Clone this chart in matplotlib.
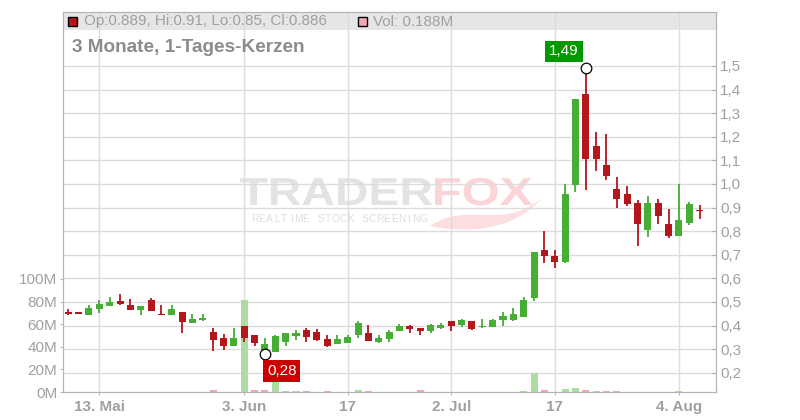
import numpy as np
import pandas as pd
import matplotlib
matplotlib.use('Agg')
import matplotlib.pyplot as plt
from matplotlib.patches import Rectangle, PathPatch
from matplotlib.textpath import TextPath
from matplotlib.font_manager import FontProperties
from matplotlib.transforms import Affine2D, blended_transform_factory
from matplotlib.path import Path

plt.rcParams['font.family'] = ['Liberation Sans', 'DejaVu Sans']

# US trading days, 8 May - 6 Aug 2025
holidays = ['2025-05-26', '2025-06-19', '2025-07-04']
dates = pd.bdate_range('2025-05-08', '2025-08-06', freq='C', holidays=holidays)

opens = [0.458, 0.458, 0.446, 0.472, 0.484, 0.504, 0.487, 0.466, 0.508, 0.449,
         0.446, 0.458, 0.412, 0.424, 0.373, 0.347, 0.315, 0.398, 0.360, 0.297,
         0.289, 0.332, 0.356, 0.381, 0.373, 0.343, 0.323, 0.326, 0.360, 0.369,
         0.330, 0.343, 0.377, 0.398, 0.390, 0.377, 0.390, 0.419, 0.402, 0.419,
         0.394, 0.394, 0.424, 0.424, 0.438, 0.518, 0.720, 0.695, 0.671, 0.996,
         1.381, 1.161, 1.080, 0.979, 0.958, 0.919, 0.805, 0.919, 0.832, 0.781,
         0.836, 0.889]
highs = [0.469, 0.458, 0.487, 0.508, 0.521, 0.534, 0.513, 0.483, 0.517, 0.489,
         0.487, 0.458, 0.449, 0.449, 0.390, 0.364, 0.390, 0.400, 0.360, 0.347,
         0.360, 0.369, 0.381, 0.390, 0.385, 0.360, 0.360, 0.360, 0.419, 0.402,
         0.360, 0.381, 0.407, 0.402, 0.390, 0.407, 0.411, 0.420, 0.428, 0.420,
         0.428, 0.428, 0.458, 0.475, 0.521, 0.711, 0.801, 0.720, 1.000, 1.360,
         1.490, 1.220, 1.212, 1.031, 0.992, 0.932, 0.950, 0.936, 0.894, 1.000,
         0.924, 0.910]
lows = [0.444, 0.447, 0.446, 0.455, 0.484, 0.487, 0.467, 0.446, 0.462, 0.446,
        0.446, 0.370, 0.412, 0.420, 0.294, 0.297, 0.315, 0.332, 0.313, 0.280,
        0.287, 0.315, 0.339, 0.332, 0.335, 0.311, 0.323, 0.326, 0.349, 0.336,
        0.326, 0.330, 0.377, 0.370, 0.360, 0.369, 0.385, 0.377, 0.394, 0.381,
        0.390, 0.394, 0.398, 0.419, 0.438, 0.506, 0.667, 0.645, 0.667, 0.968,
        0.975, 1.056, 1.017, 0.900, 0.908, 0.739, 0.777, 0.829, 0.770, 0.781,
        0.828, 0.850]
closes = [0.447, 0.447, 0.475, 0.492, 0.500, 0.492, 0.467, 0.483, 0.462, 0.446,
          0.470, 0.415, 0.428, 0.432, 0.339, 0.315, 0.347, 0.349, 0.325, 0.322,
          0.356, 0.369, 0.369, 0.353, 0.339, 0.315, 0.343, 0.352, 0.411, 0.336,
          0.347, 0.373, 0.398, 0.386, 0.377, 0.402, 0.402, 0.398, 0.424, 0.386,
          0.398, 0.424, 0.441, 0.449, 0.508, 0.711, 0.696, 0.671, 0.958, 1.360,
          1.107, 1.107, 1.035, 0.938, 0.915, 0.832, 0.919, 0.866, 0.781, 0.847,
          0.915, 0.886]
# volume in millions
volumes = [0.1, 0.1, 0.1, 0.1, 0.1, 0.1, 0.1, 0.1, 0.1, 0.1,
           0.1, 0.1, 0.1, 0.1, 1.8, 0.1, 0.1, 81.0, 1.8, 1.8,
           8.8, 0.9, 0.9, 0.9, 0.1, 0.9, 0.1, 0.1, 2.0, 0.9,
           0.1, 0.1, 0.1, 0.1, 1.8, 0.1, 0.1, 0.1, 0.1, 0.1,
           0.1, 0.1, 0.1, 0.1, 1.2, 16.8, 2.0, 0.1, 2.9, 3.8,
           2.0, 1.2, 1.2, 1.2, 0.1, 0.1, 0.1, 0.1, 0.1, 0.9,
           0.1, 0.188]

tick_dates = ['2025-05-13', '2025-06-03', '2025-06-17', '2025-07-02', '2025-07-17', '2025-08-04']
tick_labels = ['13. Mai', '3. Jun', '17', '2. Jul', '17', '4. Aug']
price_ticks = [0.2, 0.3, 0.4, 0.5, 0.6, 0.7, 0.8, 0.9, 1.0, 1.1, 1.2, 1.3, 1.4, 1.5]
vol_ticks = [0, 20, 40, 60, 80, 100]

UP, DOWN = '#46ad35', '#b3161b'
VOL_UP, VOL_DOWN, VOL_FLAT = '#acdca4', '#f2a9b3', '#cccccc'
GRID, AXIS, LABEL = '#dcdcdc', '#b4b4b4', '#a0a0a0'

o, h, l, c = map(np.array, (opens, highs, lows, closes))
vol = np.array(volumes)
x = np.arange(len(dates))
cand_col = np.where(c >= o, UP, DOWN)
prev = np.r_[c[0], c[:-1]]
vol_col = np.where(c > prev, VOL_UP, np.where(c < prev, VOL_DOWN, VOL_FLAT))

W, H = 800, 420
fig = plt.figure(figsize=(8, 4.2), dpi=100, facecolor='white')
L, R, T, B = 63, 716, 12, 392
ax_v = fig.add_axes([L / W, 1 - B / H, (R - L) / W, (B - T) / H])
ax_v.patch.set_visible(False)
ax = ax_v.twinx()

# watermark
fp = FontProperties(family='Liberation Sans', weight='bold')


def stretched(s, x0, x1, base, size, color):
    tp = TextPath((0, 0), s, size=size, prop=fp)
    ext = tp.get_extents()
    tr = Affine2D().translate(-ext.x0, 0).scale((x1 - x0) / ext.width, 1).translate(x0, H - base)
    fig.add_artist(PathPatch(tp, transform=tr, fc=color, ec='none', zorder=-1))


stretched('TRADER', 240, 432, 205, 39, '#e3e3e3')
stretched('FOX', 435, 532, 205, 39, '#fbd4d8')
sub = 'REALTIME STOCK SCREENING'
for i, ch in enumerate(sub):
    fig.text((254.5 + i * 7.35) / W, 1 - 218.5 / H, ch, ha='center', va='center',
             fontsize=7.3, color='#dedede', zorder=-1)
tail = Path([(430, H - 226), (470, H - 200), (500, H - 232), (542, H - 198),
             (520, H - 224), (480, H - 236), (430, H - 226)],
            [Path.MOVETO, Path.CURVE4, Path.CURVE4, Path.CURVE4,
             Path.CURVE4, Path.CURVE4, Path.CURVE4])
fig.add_artist(PathPatch(tail, transform=Affine2D(), fc='#fcdde0', ec='none', zorder=-1))

# header band + grid
ax_v.add_patch(Rectangle((0, (B - 30) / (B - T)), 1, 1 - (B - 30) / (B - T),
                         transform=ax_v.transAxes, fc='#e6e6e6', ec='none', zorder=0.3))
blend = blended_transform_factory(ax_v.transAxes, ax.transData)
ax_v.hlines(price_ticks, 0, 1, transform=blend, color=GRID, lw=1, zorder=0.6)
ax_v.set_axisbelow(True)
ax_v.grid(axis='x', color=GRID, lw=1)

# volume
ax_v.bar(x, vol, width=0.68, color=vol_col, zorder=1)
ax_v.set_ylim(0, 336)
ax_v.set_yticks(vol_ticks)
ax_v.set_yticklabels([f'{v}M' for v in vol_ticks])

# candles
ax.vlines(x, l, h, colors=cand_col, lw=1.3, zorder=2)
ax.bar(x, np.maximum(np.abs(c - o), 0.004), bottom=np.minimum(o, c), width=0.68,
       color=cand_col, zorder=3)
ax.set_ylim(0.1186, 1.7288)
ax.set_yticks(price_ticks)
ax.set_yticklabels([f'{p:.1f}'.replace('.', ',') for p in price_ticks])

ax_v.set_xlim(-0.51, 62.58)
ax_v.set_xticks(dates.get_indexer(pd.to_datetime(tick_dates)))
ax_v.set_xticklabels(tick_labels, fontweight='bold')

for a in (ax, ax_v):
    for s in a.spines.values():
        s.set_color(AXIS)
ax_v.tick_params(axis='x', length=2.5, pad=3, color=AXIS, labelcolor=LABEL, labelsize=11)
ax_v.tick_params(axis='y', length=2, pad=2, color=AXIS, labelcolor=LABEL, labelsize=11)
ax.tick_params(axis='y', direction='in', length=3.5, pad=3, color=AXIS, labelcolor=LABEL, labelsize=11)

# extreme markers
ih, il = int(np.argmax(h)), int(np.argmin(l))
ax.scatter([ih, il], [h[ih], l[il]], s=58, facecolor='white', edgecolor='black', lw=0.9, zorder=6)
ax.annotate(f'{h[ih]:.2f}'.replace('.', ','), (ih, h[ih]), xytext=(-7, 10), textcoords='offset pixels',
            ha='right', va='bottom', color='white', fontsize=11, zorder=7,
            bbox=dict(boxstyle='square,pad=0.25', fc='#009a00', ec='none'))
ax.annotate(f'{l[il]:.2f}'.replace('.', ','), (il, l[il]), xytext=(2, -10), textcoords='offset pixels',
            ha='left', va='top', color='white', fontsize=11, zorder=7,
            bbox=dict(boxstyle='square,pad=0.25', fc='#cc0000', ec='none'))

# legend header
fig.add_artist(Rectangle((68 / W, 1 - 26 / H), 9 / W, 9 / H, transform=fig.transFigure,
                         fc=cand_col[-1], ec='black', lw=1, zorder=5))
fig.text(84 / W, 1 - 21.5 / H, f'Op:{o[-1]:g}, Hi:{h[-1]:g}, Lo:{l[-1]:g}, Cl:{c[-1]:g}',
         ha='left', va='center', fontsize=11, color=LABEL, zorder=5)
fig.add_artist(Rectangle((358 / W, 1 - 26 / H), 9 / W, 9 / H, transform=fig.transFigure,
                         fc=vol_col[-1], ec='black', lw=1, zorder=5))
fig.text(373 / W, 1 - 21.5 / H, f'Vol: {vol[-1]:g}M', ha='left', va='center',
         fontsize=11, color=LABEL, zorder=5)
fig.text(72 / W, 1 - 47.5 / H, '3 Monate, 1-Tages-Kerzen', ha='left', va='center',
         fontsize=13.7, fontweight='bold', color='#8c8c8c')

fig.savefig('out.png', dpi=100)
